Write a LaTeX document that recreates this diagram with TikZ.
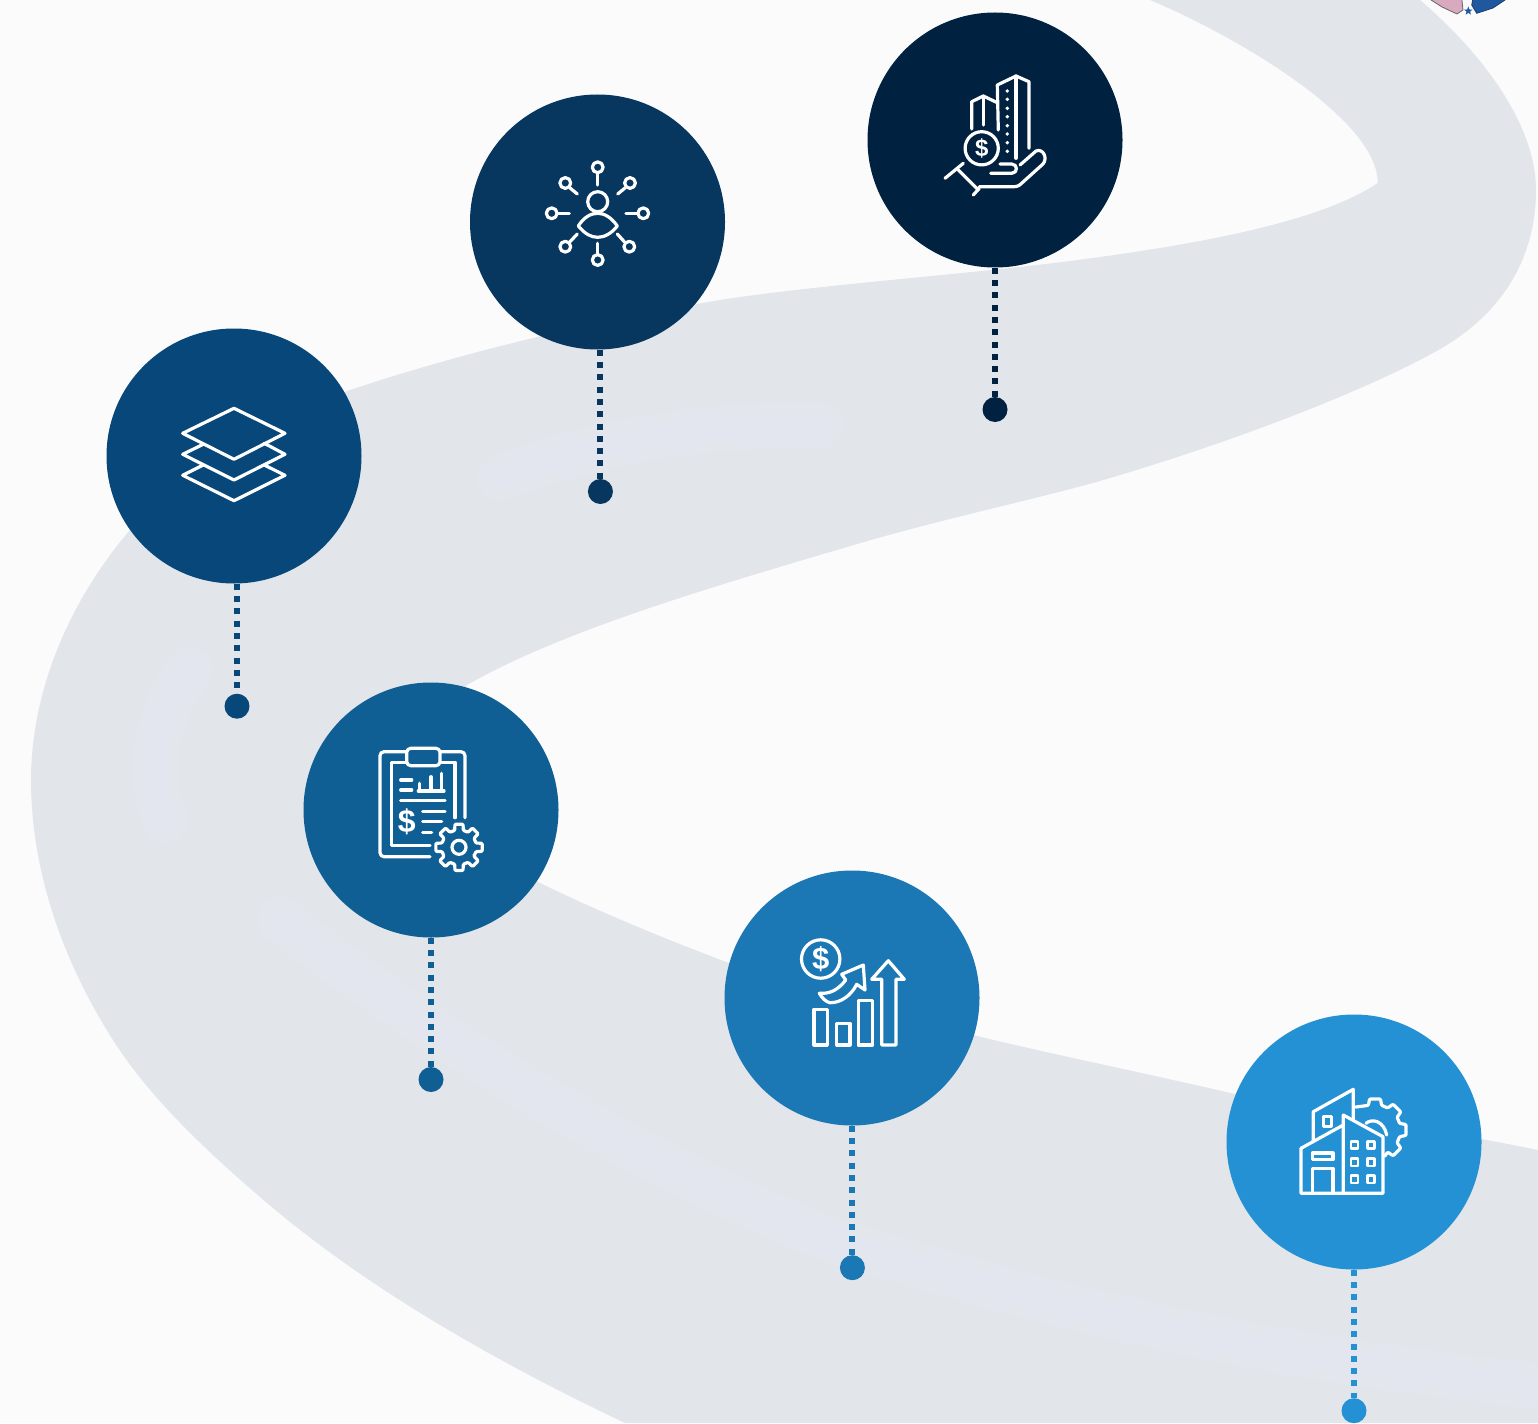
\documentclass[tikz,border=0pt]{standalone}
\usepackage{fontspec}
\setmainfont{Liberation Sans}
\usetikzlibrary{shapes.geometric}
\definecolor{bgc}{HTML}{FBFBFC}
\definecolor{bandc}{HTML}{E2E6EB}
\definecolor{patchc}{HTML}{E8E7F3}
\definecolor{cA}{HTML}{07477A}
\definecolor{cB}{HTML}{07365F}
\definecolor{cC}{HTML}{00213F}
\definecolor{cD}{HTML}{105F94}
\definecolor{cE}{HTML}{1C78B4}
\definecolor{cF}{HTML}{2491D4}
\definecolor{logoP}{HTML}{D9A9C0}
\definecolor{logoB}{HTML}{20589F}
\tikzset{
  hub/.style={circle,inner sep=0pt,minimum size=255pt,draw=none},
  pin/.style={circle,inner sep=0pt,minimum size=25pt,draw=none},
  leader/.style={line width=6pt,dash pattern=on 6pt off 6.3pt},
  iconline/.style={draw=white,line width=3.2pt,line cap=round,line join=round},
  softpatch/.style={patchc,line cap=round,opacity=.2},
  dollar/.style={text=white,inner sep=0pt}
}
\newcommand{\fullgear}[4]{% cx cy tip root
  \draw[iconline,rounded corners=1pt,shift={(#1,#2)}] (31:#4)
    \foreach \a in {45,90,...,360}{ -- (\a-14:#4) -- (\a-10:#3) -- (\a+10:#3) -- (\a+14:#4) } -- cycle;
}
\begin{document}
\begin{tikzpicture}[x=1pt,y=-1pt]
\useasboundingbox (0,0) rectangle (1538,1423);
\clip (0,0) rectangle (1538,1423);
\fill[bgc] (0,0) rectangle (1538,1423);

% winding band
\fill[bandc] (1150,0) .. controls (1240,38) and (1378,120) .. (1377.7,183)
  .. controls (1320,222) and (1200,243) .. (1100,257)
  .. controls (980,274) and (830,283) .. (720,300)
  .. controls (600,320) and (470,350) .. (350,390)
  .. controls (270,420) and (190,470) .. (130,530)
  .. controls (70,600) and (31,690) .. (31,780)
  .. controls (31,870) and (62,960) .. (113,1040)
  .. controls (150,1098) and (205,1150) .. (266.7,1202.7)
  .. controls (340,1265) and (450,1340) .. (625,1423)
  -- (1538,1423) -- (1538,1150)
  .. controls (1430,1128) and (1300,1108) .. (1230.7,1093)
  .. controls (1140,1072) and (1060,1056) .. (980,1036.7)
  .. controls (890,1013) and (810,995) .. (729,963)
  .. controls (660,937) and (600,912) .. (540,883)
  .. controls (450,830) and (380,770) .. (467,685)
  .. controls (560,632) and (700,590) .. (871,540)
  .. controls (960,515) and (1040,498) .. (1100,481)
  .. controls (1230,443) and (1360,393) .. (1433,353)
  .. controls (1495,320) and (1536,265) .. (1536,190)
  .. controls (1536,130) and (1490,60) .. (1420,0) -- cycle;

% faint lighter streaks on the band
\foreach \w in {6,14,22,30,38,46}{
  \draw[softpatch,line width=\w pt] (500,478) .. controls (600,440) and (700,425) .. (820,425);
  \draw[softpatch,line width=\w pt] (190,670) .. controls (150,720) and (150,780) .. (165,820);
  \draw[softpatch,line width=\w pt] (280,920) .. controls (380,995) and (560,1130) .. (830,1240);
  \draw[softpatch,line width=\w pt] (830,1240) .. controls (1000,1290) and (1200,1350) .. (1530,1385);
}

% logo fragment
\fill[logoP,draw=black!60,line width=.8pt] (1428,-2) -- (1442,7) -- (1457,14) -- (1463,10) -- (1461.7,-2) -- cycle;
\fill[logoB,draw=logoB!70!black,line width=.8pt] (1473,-2) -- (1471.7,5) -- (1476.7,13.3) -- (1493,8) -- (1508,-2) -- cycle;
\node[star,star points=5,star point ratio=2.4,fill=logoB,inner sep=0pt,minimum size=9pt] (logostar) at (1468.3,11) {};

% hubs and pins
\node[pin,fill=cA] (dA) at (237,706.2) {};
\node[pin,fill=cB] (dB) at (600.4,491.5) {};
\node[pin,fill=cC] (dC) at (995,409.5) {};
\node[pin,fill=cD] (dD) at (431,1079.5) {};
\node[pin,fill=cE] (dE) at (852.4,1267.7) {};
\node[pin,fill=cF] (dF) at (1354,1410.7) {};
\node[hub,fill=cA] (hA) at (234,456) {};
\node[hub,fill=cB] (hB) at (597.5,222) {};
\node[hub,fill=cC] (hC) at (995,140) {};
\node[hub,fill=cD] (hD) at (431,810) {};
\node[hub,fill=cE] (hE) at (852,998) {};
\node[hub,fill=cF] (hF) at (1354,1142) {};
\draw[leader,cA] (hA.south -| dA) -- (dA);
\draw[leader,cB] (hB.south -| dB) -- (dB);
\draw[leader,cC] (hC.south -| dC) -- (dC);
\draw[leader,cD] (hD.south -| dD) -- (dD);
\draw[leader,cE] (hE.south -| dE) -- (dE);
\draw[leader,cF] (hF.south -| dF) -- (dF);

% icon A: layers
\draw[iconline] (234,408.3) -- (285,433.3) -- (234,459.3) -- (182.7,433.3) -- cycle;
\draw[iconline] (203.3,444.3) -- (182.7,454.3) -- (234,480) -- (285,454.3) -- (264.3,443.3);
\draw[iconline] (203.3,465) -- (182.7,475.3) -- (234,500.7) -- (285,475.3) -- (264.3,465);

% icon B: person network
\draw[iconline] (597.7,201.7) circle (10);
\draw[iconline] (578.3,226) .. controls (584,217) and (591,213.3) .. (597.7,213.3) .. controls (604,213.3) and (611,217) .. (617.3,226)
  .. controls (611,234) and (604,237.3) .. (597.7,237.3) .. controls (591,237.3) and (585,234) .. (578.3,226) -- cycle;
\foreach \cx/\cy/\xa/\ya/\xb/\yb in {
  597.7/167.3/597.7/174/597.7/185,
  597.7/260/597.7/243.3/597.7/253.3,
  551.7/213.3/558.3/213.3/569.3/213.3,
  643.3/213.3/626/213.3/636.7/213.3,
  565.3/183/570/188/577.3/194,
  630/183/625/188/617.7/194,
  565.3/246.7/570/241.7/577.3/234,
  629.3/246.7/624.3/241.7/617.3/234}{
  \draw[iconline] (\cx,\cy) circle (5.4);
  \draw[iconline] (\xa,\ya) -- (\xb,\yb);
}

% icon C: buildings in hand
\draw[iconline] (998.3,130) -- (997.3,85) -- (1016,76) -- (1029,81.7) -- (1029,148.3);
\draw[iconline] (1016,76) -- (1016,158.3);
\draw[iconline] (971.7,129) -- (971.7,101.7) -- (983.3,96) -- (997.3,102.7);
\draw[iconline] (983.3,96) -- (983.3,125);
\foreach \y in {91,99.3,108.3,116.7,125.7,134,142.7,151.3}{\fill[white] (1007.3,\y) circle (1.9);}
\draw[iconline] (981.7,148.3) circle (16.6);
\node[dollar,font=\bfseries\fontsize{24}{24}\selectfont] (coinC) at (981.7,148.3) {\$};
\draw[iconline] (945,178.3) -- (963.3,163.3);
\draw[iconline] (958.3,170) -- (978.3,190);
\draw[iconline] (973.3,195) -- (979.3,188.3);
\draw[iconline] (979.3,186.7) -- (1014,186.7) .. controls (1018,186.7) and (1020,185) .. (1023,182) -- (1043,164)
  .. controls (1048,158) and (1043,148) .. (1036,151) -- (1020,165);
\draw[iconline] (1000,164) -- (1011.7,164) .. controls (1018,164) and (1018,173.3) .. (1011.7,173.3) -- (990.7,173.3);

% icon D: clipboard with gear
\draw[iconline,rounded corners=4pt] (465,817.7) -- (465,751.7) -- (440,751.7);
\draw[iconline,rounded corners=4pt] (406.7,751.7) -- (380,751.7) -- (380,856.7) -- (430,856.7);
\draw[iconline,rounded corners=4pt] (406.7,748.3) rectangle (440,765.7);
\draw[iconline] (406.7,762.3) -- (391.7,762.3) -- (391.7,845.7) -- (430,845.7);
\draw[iconline] (440,762.3) -- (455,762.3) -- (455,817.7);
\draw[iconline] (400.7,780) -- (411.7,780);
\draw[iconline] (400.7,790) -- (411.7,790);
\draw[iconline] (418.3,791) -- (444,791);
\draw[iconline] (419.3,791) -- (419.3,783.3);
\draw[iconline] (431,791) -- (431,776.7);
\draw[iconline] (441.7,791) -- (441.7,773.3);
\draw[iconline] (400.7,800.7) -- (445,800.7);
\node[dollar,font=\bfseries\fontsize{32}{32}\selectfont] (coinD) at (406.7,821.7) {\$};
\draw[iconline] (422.7,811.7) -- (445,811.7);
\draw[iconline] (422.7,821.7) -- (441.7,821.7);
\draw[iconline] (422.7,832.3) -- (431.7,832.3);
\fullgear{459}{847.3}{23.5}{17.5}
\draw[iconline] (459,847.3) circle (7);

% icon E: growth chart
\draw[iconline] (820.7,959) circle (19.2);
\node[dollar,font=\bfseries\fontsize{31}{31}\selectfont] (coinE) at (820.7,959) {\$};
\draw[iconline] (814,1009.3) rectangle (827.3,1045);
\draw[iconline] (836.7,1023.3) rectangle (850,1045);
\draw[iconline] (858.3,1000.7) rectangle (872.7,1045);
\draw[iconline] (881.7,1045) -- (881.7,979.3) -- (871.7,979.3) -- (888.3,960.7) -- (904.3,979.3) -- (896,979.3) -- (896,1045) -- cycle;
\draw[iconline] (819.3,993.3) .. controls (830,994) and (838,990) .. (845.7,980) -- (841.7,974.3) -- (863.3,965) -- (865,990) -- (856.7,984.3)
  .. controls (851,996) and (840,1003) .. (830,1002.7) .. controls (826,1002) and (822,998) .. (819.3,993.3) -- cycle;

% icon F: factory with gear
\draw[iconline] (1301,1148.3) -- (1301,1193.3) -- (1383,1193.3) -- (1383,1136.7) -- (1343.3,1115) -- (1343.3,1193.3);
\draw[iconline] (1301,1148.3) -- (1343.3,1125);
\draw[iconline] (1313.3,1141.7) -- (1313.3,1111.7) -- (1353.3,1089.3) -- (1353.3,1119.3);
\draw[iconline] (1323.3,1116.7) rectangle (1331.7,1126.7);
\draw[iconline] (1312.5,1153) rectangle (1333,1159.5);
\draw[iconline] (1312.5,1193.3) -- (1312.5,1168.3) -- (1333,1168.3) -- (1333,1193.3);
\foreach \xa/\xb in {1350.8/1358,1367.3/1374.7}{
  \foreach \ya/\yb in {1141.3/1148.7,1158.6/1166,1175.6/1183}{
    \draw[iconline,line width=2.6pt] (\xa,\ya) rectangle (\xb,\yb);
  }
}
\draw[iconline,rounded corners=1pt,shift={(1375,1130)}] (-130:30)
  \foreach \a in {-90,-45,0,45}{ -- (\a-15:25.5) -- (\a-10:31.5) -- (\a+10:31.5) -- (\a+15:25.5) } -- (70:28);
\draw[iconline] (1366,1123.3) .. controls (1372,1118) and (1384,1121) .. (1386.7,1135);
\end{tikzpicture}
\end{document}
